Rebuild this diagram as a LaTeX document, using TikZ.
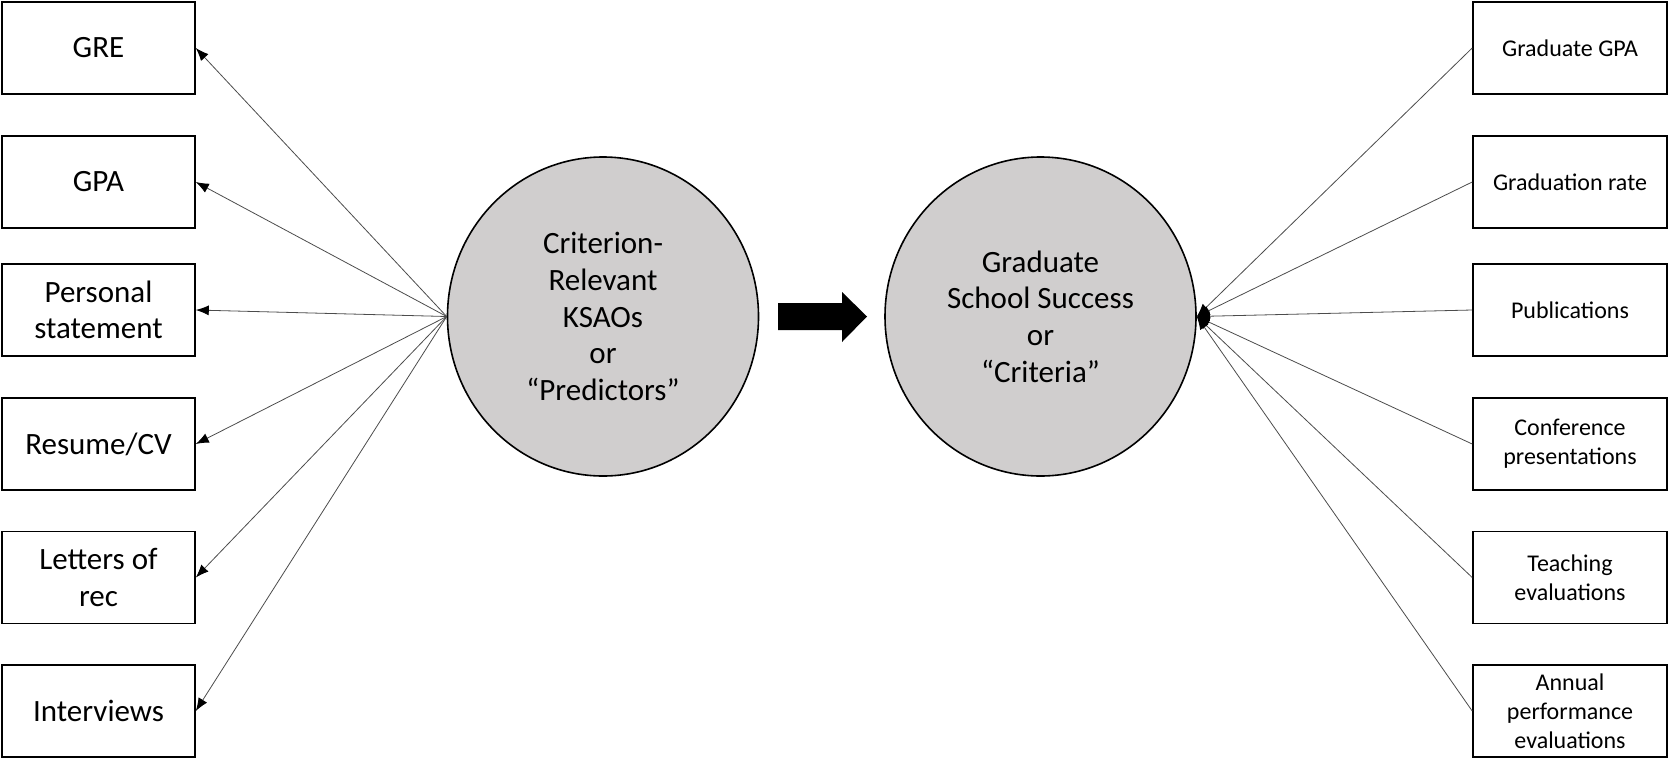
\documentclass[tikz,border=0pt]{standalone}
\usepackage{fontspec}
\setmainfont{Carlito}
\usetikzlibrary{arrows.meta,shapes.geometric}
\definecolor{blobgray}{HTML}{D0CECE}

\begin{document}
\begin{tikzpicture}[
				x=0.5pt, y=-0.5pt,
				lbox/.style = {draw, line width=0.8pt, minimum width=96.5pt, minimum height=46pt,
						inner sep=0pt, align=center, font=\fontsize{15.5}{18.3}\selectfont},
				rbox/.style = {lbox, minimum width=97pt, font=\fontsize{12}{14.5}\selectfont},
				blob/.style = {ellipse, draw, line width=0.8pt, fill=blobgray, minimum width=155.5pt,
						minimum height=159.5pt, inner sep=0pt, align=center, font=\fontsize{15.5}{18.3}\selectfont},
				link/.style = {-{Latex[length=6.5pt,width=5pt,color=black]}, black!70, line width=0.4pt},
			]
			\path[use as bounding box] (0,0) rectangle (1669,760);
			% predictors
			\node[lbox] (GRE) at (98.5,48) {GRE};
			\node[lbox] (GPA) at (98.5,182) {GPA};
			\node[lbox] (PS) at (98.5,310) {Personal\\statement};
			\node[lbox] (CV) at (98.5,444) {Resume/CV};
			\node[lbox] (LOR) at (98.5,577.5) {Letters of\\rec};
			\node[lbox] (INT) at (98.5,711) {Interviews};
			% criteria
			\node[rbox] (GGPA) at (1570,48) {Graduate GPA};
			\node[rbox] (GRATE) at (1570,182) {Graduation rate};
			\node[rbox] (PUB) at (1570,310) {Publications};
			\node[rbox] (CONF) at (1570,444) {Conference\\presentations};
			\node[rbox] (TEACH) at (1570,577.5) {Teaching\\evaluations};
			\node[rbox] (ANN) at (1570,711) {Annual\\performance\\evaluations};
			% the two circles
			\node[blob] (KSA) at (603,316.5) {Criterion-\\Relevant\\KSAOs\\or\\“Predictors”};
			\node[blob] (GSS) at (1040.5,316.5) {Graduate\\School Success\\or\\“Criteria”};
			\fill (778,303) -- (842,303) -- (842,292) -- (867,316.5) -- (842,342) -- (842,330) -- (778,330) -- cycle;
			% left fan
			\draw[link] (KSA.west) -- (GRE.east);
			\draw[link] (KSA.west) -- (GPA.east);
			\draw[link] (KSA.west) -- (PS.east);
			\draw[link] (KSA.west) -- (CV.east);
			\draw[link] (KSA.west) -- (LOR.east);
			\draw[link] (KSA.west) -- (INT.east);
			% right fan
			\draw[link] (GGPA.west) -- (GSS.east);
			\draw[link] (GRATE.west) -- (GSS.east);
			\draw[link] (PUB.west) -- (GSS.east);
			\draw[link] (CONF.west) -- (GSS.east);
			\draw[link] (TEACH.west) -- (GSS.east);
			\draw[link] (ANN.west) -- (GSS.east);
		\end{tikzpicture}
\end{document}
